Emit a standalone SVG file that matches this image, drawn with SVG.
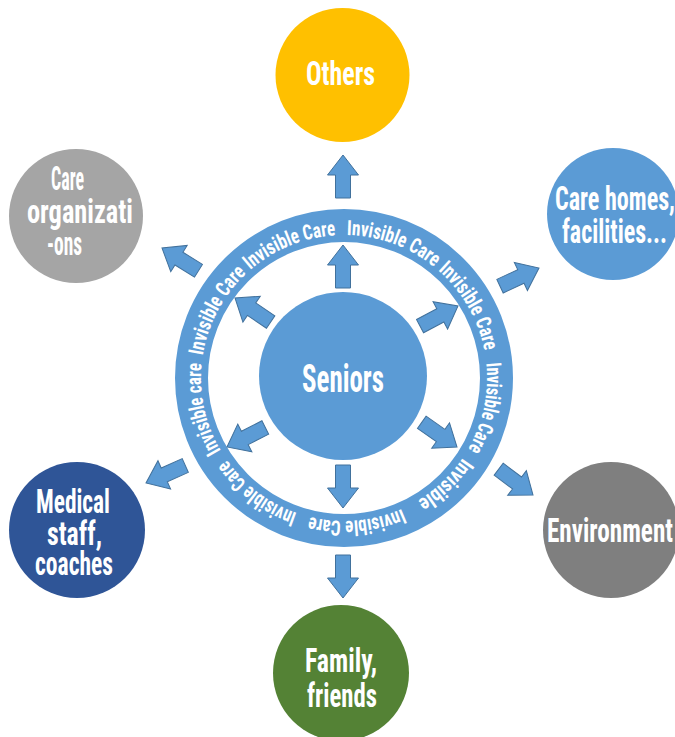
<svg xmlns="http://www.w3.org/2000/svg" xmlns:xlink="http://www.w3.org/1999/xlink" width="675" height="737" viewBox="0 0 675 737">
<style>
.lbl{font-family:"Liberation Sans Narrow","Roboto Condensed","DejaVu Sans Condensed","Liberation Sans",sans-serif;font-weight:bold;fill:#ffffff;font-size:33px;font-stretch:condensed}
.ring{font-family:"Liberation Sans Narrow","Roboto Condensed","DejaVu Sans Condensed","Liberation Sans",sans-serif;font-weight:bold;fill:#ffffff;font-size:21px;font-stretch:condensed}
.arrow{fill:#5B9BD5;stroke:#41719C;stroke-width:1;stroke-linejoin:miter}
</style>
<defs>
<polygon id="arr" points="-43,-7.5 -20,-7.5 -20,-15.5 0,0 -20,15.5 -20,7.5 -43,7.5"/>
<path id="ringpath" d="M226.86,460.02 A143,143 0 1 1 461.14,295.98 A143,143 0 1 1 226.86,460.02"/>
</defs>
<rect width="675" height="737" fill="#ffffff"/>

<g id="ring">
<circle cx="344" cy="378" r="152.5" fill="none" stroke="#5B9BD5" stroke-width="33"/>
<text class="ring"><textPath href="#ringpath" startOffset="11.2" textLength="90.6" lengthAdjust="spacingAndGlyphs">Invisible care</textPath></text>
<text class="ring"><textPath href="#ringpath" startOffset="109.8" textLength="94.8" lengthAdjust="spacingAndGlyphs">Invisible Care</textPath></text>
<text class="ring"><textPath href="#ringpath" startOffset="209.6" textLength="93.8" lengthAdjust="spacingAndGlyphs">Invisible Care</textPath></text>
<text class="ring"><textPath href="#ringpath" startOffset="314.5" textLength="94.8" lengthAdjust="spacingAndGlyphs">Invisible Care</textPath></text>
<text class="ring"><textPath href="#ringpath" startOffset="414.3" textLength="94.8" lengthAdjust="spacingAndGlyphs">Invisible Care</textPath></text>
<text class="ring"><textPath href="#ringpath" startOffset="521.6" textLength="89.3" lengthAdjust="spacingAndGlyphs">Invisible Care</textPath></text>
<text class="ring"><textPath href="#ringpath" startOffset="620.7" textLength="63.1" lengthAdjust="spacingAndGlyphs">Invisible</textPath></text>
<text class="ring"><textPath href="#ringpath" startOffset="701.3" textLength="94.1" lengthAdjust="spacingAndGlyphs">Invisible Care</textPath></text>
<text class="ring"><textPath href="#ringpath" startOffset="808.6" textLength="89.5" lengthAdjust="spacingAndGlyphs">Invisible Care</textPath></text>
</g>

<g id="seniors">
<circle cx="343" cy="376" r="84" fill="#5B9BD5"/>
<text class="lbl" x="302" y="392" textLength="82" lengthAdjust="spacingAndGlyphs" style="font-size:38px">Seniors</text>
</g>

<g id="others">
<circle cx="342.5" cy="75" r="67" fill="#FFC000"/>
<text class="lbl" x="306" y="85" textLength="69" lengthAdjust="spacingAndGlyphs">Others</text>
</g>

<g id="care-organizations">
<circle cx="76" cy="216" r="67" fill="#A5A5A5"/>
<text class="lbl" x="51" y="190" textLength="33" lengthAdjust="spacingAndGlyphs">Care</text>
<text class="lbl" x="27" y="223" textLength="106" lengthAdjust="spacingAndGlyphs">organizati</text>
<text class="lbl" x="47" y="255" textLength="35" lengthAdjust="spacingAndGlyphs">-ons</text>
</g>

<g id="care-homes">
<circle cx="613" cy="214" r="66" fill="#5B9BD5"/>
<text class="lbl" x="555" y="210" textLength="120" lengthAdjust="spacingAndGlyphs">Care homes,</text>
<text class="lbl" x="562" y="243" textLength="105" lengthAdjust="spacingAndGlyphs">facilities...</text>
</g>

<g id="medical-staff">
<circle cx="77" cy="530" r="68" fill="#2F5597"/>
<text class="lbl" x="36" y="513" textLength="74" lengthAdjust="spacingAndGlyphs">Medical</text>
<text class="lbl" x="47" y="545" textLength="55" lengthAdjust="spacingAndGlyphs">staff,</text>
<text class="lbl" x="35" y="575" textLength="78" lengthAdjust="spacingAndGlyphs">coaches</text>
</g>

<g id="environment">
<circle cx="611" cy="530" r="68" fill="#7F7F7F"/>
<text class="lbl" x="547" y="542" textLength="126" lengthAdjust="spacingAndGlyphs">Environment</text>
</g>

<g id="family-friends">
<circle cx="341" cy="673" r="68" fill="#548235"/>
<text class="lbl" x="305" y="672" textLength="72" lengthAdjust="spacingAndGlyphs">Family,</text>
<text class="lbl" x="307" y="707" textLength="70" lengthAdjust="spacingAndGlyphs">friends</text>
</g>

<g id="connectors">
<use href="#arr" class="arrow" transform="translate(343,245) rotate(-90)"/>
<use href="#arr" class="arrow" transform="translate(235,298) rotate(-146)"/>
<use href="#arr" class="arrow" transform="translate(458,306) rotate(-28)"/>
<use href="#arr" class="arrow" transform="translate(457,447) rotate(35)"/>
<use href="#arr" class="arrow" transform="translate(343,508) rotate(90)"/>
<use href="#arr" class="arrow" transform="translate(227,447) rotate(153)"/>
<use href="#arr" class="arrow" transform="translate(343,155) rotate(-90)"/>
<use href="#arr" class="arrow" transform="translate(343,598) rotate(90)"/>
<use href="#arr" class="arrow" transform="translate(162,248) rotate(-148)"/>
<use href="#arr" class="arrow" transform="translate(539,268) rotate(-25)"/>
<use href="#arr" class="arrow" transform="translate(146,483) rotate(156)"/>
<use href="#arr" class="arrow" transform="translate(533,495) rotate(37)"/>
</g>
</svg>
